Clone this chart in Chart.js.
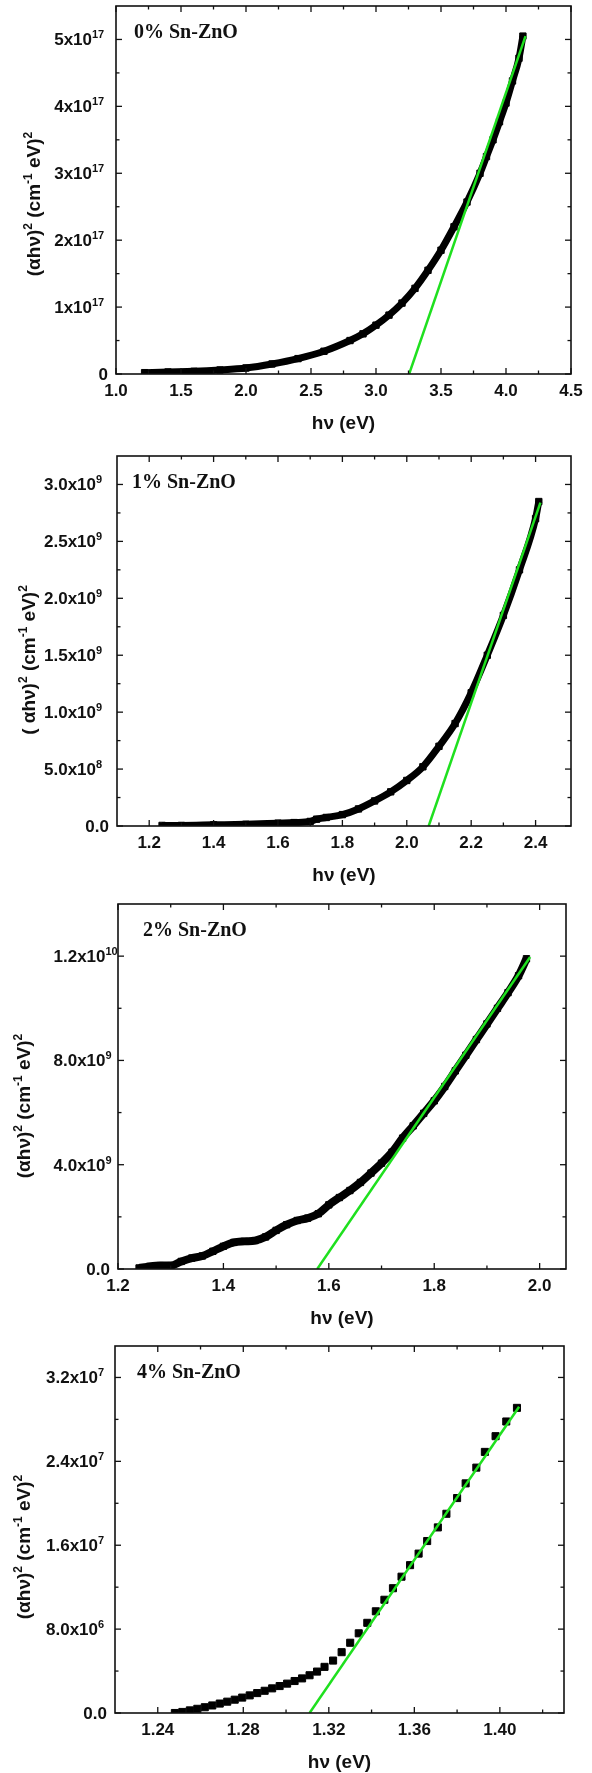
<!DOCTYPE html>
<html>
<head>
<meta charset="utf-8">
<title>Tauc plots Sn-ZnO</title>
<script src="https://cdn.jsdelivr.net/npm/chart.js@4.4.1/dist/chart.umd.min.js"></script>
<style>
  html, body { margin: 0; padding: 0; background: #fff; }
  #page { position: relative; width: 592px; height: 1773px; overflow: hidden; }
  #page canvas { position: absolute; left: 0; }
</style>
</head>
<body>
<div id="page">
  <canvas id="c1"></canvas>
  <canvas id="c2"></canvas>
  <canvas id="c3"></canvas>
  <canvas id="c4"></canvas>
</div>
<script>
'use strict';

/* ---- Data: 0% Sn-ZnO ---- */
const p1Energy = [1.22, 1.4, 1.6, 1.8, 2.0, 2.2, 2.4, 2.6, 2.8, 2.9, 3.0, 3.1, 3.2, 3.3, 3.4, 3.5, 3.6, 3.7, 3.8, 3.85, 3.9, 3.95, 4.0, 4.05, 4.1, 4.13];
const p1Absorb = [0.02e17, 0.03e17, 0.04e17, 0.06e17, 0.09e17, 0.15e17, 0.23e17, 0.34e17, 0.5e17, 0.6e17, 0.73e17, 0.88e17, 1.06e17, 1.28e17, 1.55e17, 1.85e17, 2.2e17, 2.57e17, 3.0e17, 3.25e17, 3.5e17, 3.77e17, 4.05e17, 4.38e17, 4.72e17, 5.05e17];
const p1FitX = [3.255, 4.15];
const p1FitY = [0, 5.05e17];
const p1XTicks = [1.0, 1.5, 2.0, 2.5, 3.0, 3.5, 4.0, 4.5];
const p1XLabels = ['1.0', '1.5', '2.0', '2.5', '3.0', '3.5', '4.0', '4.5'];
const p1XMinor = [1.25, 1.75, 2.25, 2.75, 3.25, 3.75, 4.25];
const p1YTicks = [0, 1e17, 2e17, 3e17, 4e17, 5e17];
const p1YLabels = ['0', '1x10^{17}', '2x10^{17}', '3x10^{17}', '4x10^{17}', '5x10^{17}'];
const p1YMinor = [0.5e17, 1.5e17, 2.5e17, 3.5e17, 4.5e17];

/* ---- Data: 1% Sn-ZnO ---- */
const p2Energy = [1.24, 1.3, 1.4, 1.5, 1.6, 1.65, 1.7, 1.72, 1.75, 1.8, 1.85, 1.9, 1.95, 2.0, 2.05, 2.1, 2.15, 2.2, 2.25, 2.3, 2.35, 2.4, 2.41];
const p2Absorb = [0.005e9, 0.005e9, 0.01e9, 0.015e9, 0.025e9, 0.03e9, 0.04e9, 0.06e9, 0.075e9, 0.1e9, 0.15e9, 0.22e9, 0.3e9, 0.4e9, 0.52e9, 0.7e9, 0.9e9, 1.17e9, 1.5e9, 1.85e9, 2.25e9, 2.7e9, 2.85e9];
const p2FitX = [2.068, 2.415];
const p2FitY = [0, 2.84e9];
const p2XTicks = [1.2, 1.4, 1.6, 1.8, 2.0, 2.2, 2.4];
const p2XLabels = ['1.2', '1.4', '1.6', '1.8', '2.0', '2.2', '2.4'];
const p2XMinor = [1.3, 1.5, 1.7, 1.9, 2.1, 2.3];
const p2YTicks = [0, 0.5e9, 1.0e9, 1.5e9, 2.0e9, 2.5e9, 3.0e9];
const p2YLabels = ['0.0', '5.0x10^{8}', '1.0x10^{9}', '1.5x10^{9}', '2.0x10^{9}', '2.5x10^{9}', '3.0x10^{9}'];
const p2YMinor = [0.25e9, 0.75e9, 1.25e9, 1.75e9, 2.25e9, 2.75e9];

/* ---- Data: 2% Sn-ZnO ---- */
const p3Energy = [1.24, 1.26, 1.28, 1.30, 1.32, 1.34, 1.36, 1.38, 1.40, 1.42, 1.44, 1.46, 1.48, 1.50, 1.52, 1.54, 1.56, 1.58, 1.60, 1.62, 1.64, 1.66, 1.68, 1.70, 1.72, 1.74, 1.76, 1.78, 1.80, 1.82, 1.84, 1.86, 1.88, 1.90, 1.92, 1.94, 1.96, 1.975];
const p3Absorb = [0.04e9, 0.1e9, 0.13e9, 0.13e9, 0.29e9, 0.42e9, 0.5e9, 0.68e9, 0.87e9, 1.02e9, 1.06e9, 1.09e9, 1.23e9, 1.48e9, 1.7e9, 1.86e9, 1.95e9, 2.12e9, 2.46e9, 2.74e9, 3.01e9, 3.32e9, 3.68e9, 4.06e9, 4.48e9, 5.02e9, 5.49e9, 5.97e9, 6.45e9, 7.0e9, 7.6e9, 8.2e9, 8.8e9, 9.4e9, 10.0e9, 10.6e9, 11.25e9, 11.9e9];
const p3FitX = [1.578, 1.982];
const p3FitY = [0, 11.97e9];
const p3XTicks = [1.2, 1.4, 1.6, 1.8, 2.0];
const p3XLabels = ['1.2', '1.4', '1.6', '1.8', '2.0'];
const p3XMinor = [1.3, 1.5, 1.7, 1.9];
const p3YTicks = [0, 4e9, 8e9, 12e9];
const p3YLabels = ['0.0', '4.0x10^{9}', '8.0x10^{9}', '1.2x10^{10}'];
const p3YMinor = [2e9, 6e9, 10e9];

/* ---- Data: 4% Sn-ZnO ---- */
const p4Energy = [1.248, 1.2515, 1.255, 1.2585, 1.262, 1.2655, 1.269, 1.2725, 1.276, 1.2795, 1.283, 1.2865, 1.290, 1.2935, 1.297, 1.3005, 1.304, 1.3075, 1.311, 1.3145, 1.318, 1.322, 1.326, 1.330, 1.334, 1.338, 1.342, 1.346, 1.350, 1.354, 1.358, 1.362, 1.366, 1.371, 1.375, 1.380, 1.384, 1.389, 1.393, 1.398, 1.403, 1.408];
const p4Absorb = [0.0e6, 0.1e6, 0.25e6, 0.4e6, 0.55e6, 0.72e6, 0.9e6, 1.08e6, 1.27e6, 1.47e6, 1.68e6, 1.9e6, 2.12e6, 2.35e6, 2.57e6, 2.8e6, 3.05e6, 3.3e6, 3.6e6, 3.95e6, 4.4e6, 5.0e6, 5.8e6, 6.7e6, 7.6e6, 8.6e6, 9.7e6, 10.8e6, 11.9e6, 13.0e6, 14.1e6, 15.2e6, 16.4e6, 17.7e6, 19.0e6, 20.5e6, 21.9e6, 23.4e6, 24.9e6, 26.4e6, 27.8e6, 29.1e6];
const p4FitX = [1.311, 1.409];
const p4FitY = [0, 29.2e6];
const p4XTicks = [1.24, 1.28, 1.32, 1.36, 1.40];
const p4XLabels = ['1.24', '1.28', '1.32', '1.36', '1.40'];
const p4XMinor = [1.26, 1.30, 1.34, 1.38, 1.42];
const p4YTicks = [0, 8e6, 16e6, 24e6, 32e6];
const p4YLabels = ['0.0', '8.0x10^{6}', '1.6x10^{7}', '2.4x10^{7}', '3.2x10^{7}'];
const p4YMinor = [4e6, 12e6, 20e6, 28e6];

const sampleNames = ['0% Sn-ZnO', '1% Sn-ZnO', '2% Sn-ZnO', '4% Sn-ZnO'];
const xTitle = 'h\u03bd (eV)';
const yTitles = [
  '(\u03b1h\u03bd)^{2} (cm^{-1} eV)^{2}',
  '( \u03b1h\u03bd)^{2} (cm^{-1} eV)^{2}',
  '(\u03b1h\u03bd)^{2} (cm^{-1} eV)^{2}',
  '(\u03b1h\u03bd)^{2} (cm^{-1} eV)^{2}'
];

/* ---- Styles ---- */
const SANS = '"Liberation Sans", Arial, sans-serif';
const SERIF = '"Liberation Serif", "Times New Roman", serif';
const INK = '#111';
const GREEN = '#1fe01f';

/* ---- Panel geometry (page pixels) ---- */
const panels = [
  { id: 'c1', top: 0, height: 446, box: { left: 116, right: 571, top: 6, bottom: 374 },
    xMin: 1.0, xMax: 4.5, yMax: 5.5e17, band: 7, radius: 4.5, mainGap: 24,
    nameX: 134, yTitleX: 33, yTitleY: 204,
    energy: p1Energy, absorb: p1Absorb, fitX: p1FitX, fitY: p1FitY,
    xTicks: p1XTicks, xLabels: p1XLabels, xMinor: p1XMinor,
    yTicks: p1YTicks, yLabels: p1YLabels, yMinor: p1YMinor },
  { id: 'c2', top: 446, height: 447, box: { left: 117, right: 571, top: 456, bottom: 826 },
    xMin: 1.1, xMax: 2.51, yMax: 3.25e9, band: 7, radius: 4.5, mainGap: 21,
    nameX: 132, yTitleX: 28, yTitleY: 660,
    energy: p2Energy, absorb: p2Absorb, fitX: p2FitX, fitY: p2FitY,
    xTicks: p2XTicks, xLabels: p2XLabels, xMinor: p2XMinor,
    yTicks: p2YTicks, yLabels: p2YLabels, yMinor: p2YMinor },
  { id: 'c3', top: 893, height: 443, box: { left: 118, right: 566, top: 904, bottom: 1269 },
    xMin: 1.2, xMax: 2.05, yMax: 1.4e10, band: 8, radius: 4.5, mainGap: 12.5,
    nameX: 143, yTitleX: 23, yTitleY: 1106,
    energy: p3Energy, absorb: p3Absorb, fitX: p3FitX, fitY: p3FitY,
    xTicks: p3XTicks, xLabels: p3XLabels, xMinor: p3XMinor,
    yTicks: p3YTicks, yLabels: p3YLabels, yMinor: p3YMinor },
  { id: 'c4', top: 1336, height: 437, box: { left: 115, right: 564, top: 1346, bottom: 1713 },
    xMin: 1.22, xMax: 1.43, yMax: 3.5e7, band: 0, radius: 5, mainGap: 17,
    nameX: 137, yTitleX: 23, yTitleY: 1547,
    energy: p4Energy, absorb: p4Absorb, fitX: p4FitX, fitY: p4FitY,
    xTicks: p4XTicks, xLabels: p4XLabels, xMinor: p4XMinor,
    yTicks: p4YTicks, yLabels: p4YLabels, yMinor: p4YMinor }
];

/* ---- Rich text with superscripts: "10^{17}" ---- */
function parseRich(str) {
  const parts = [];
  const re = /\^\{([^}]*)\}/g;
  let last = 0, m;
  while ((m = re.exec(str))) {
    if (m.index > last) parts.push({ t: str.slice(last, m.index), sup: false });
    parts.push({ t: m[1], sup: true });
    last = re.lastIndex;
  }
  if (last < str.length) parts.push({ t: str.slice(last), sup: false });
  return parts;
}

function measureRich(ctx, parts, size) {
  const supSize = Math.round(size * 0.62);
  return parts.map(p => {
    ctx.font = `bold ${p.sup ? supSize : size}px ${SANS}`;
    return ctx.measureText(p.t).width;
  });
}

// x is the left edge, y the baseline
function drawRich(ctx, parts, widths, x, y, size) {
  const supSize = Math.round(size * 0.62);
  ctx.textAlign = 'left';
  ctx.textBaseline = 'alphabetic';
  let cx = x;
  parts.forEach((p, i) => {
    ctx.font = `bold ${p.sup ? supSize : size}px ${SANS}`;
    ctx.fillText(p.t, cx, p.sup ? y - size * 0.42 : y);
    cx += widths[i];
  });
}

/* ---- Frame, inward ticks, labels ---- */
function makeFrame(p) {
  return {
    id: 'frame-' + p.id,
    afterDraw(chart) {
      const { ctx, chartArea: a } = chart;
      const xs = chart.scales.x, ys = chart.scales.y;
      ctx.save();
      ctx.strokeStyle = INK;
      ctx.fillStyle = INK;
      ctx.lineWidth = 1.6;
      ctx.strokeRect(a.left, a.top, a.right - a.left, a.bottom - a.top);

      const seg = (x1, y1, x2, y2) => {
        ctx.beginPath(); ctx.moveTo(x1, y1); ctx.lineTo(x2, y2); ctx.stroke();
      };
      const xTick = (v, len) => {
        const px = xs.getPixelForValue(v);
        seg(px, a.bottom, px, a.bottom - len);
        seg(px, a.top, px, a.top + len);
      };
      const yTick = (v, len) => {
        const py = ys.getPixelForValue(v);
        seg(a.left, py, a.left + len, py);
        seg(a.right, py, a.right - len, py);
      };
      ctx.lineWidth = 1.3;
      p.xTicks.forEach(v => xTick(v, 6));
      p.xMinor.forEach(v => xTick(v, 3.5));
      p.yTicks.forEach(v => yTick(v, 6));
      p.yMinor.forEach(v => yTick(v, 3.5));

      // x tick labels
      ctx.font = `bold 17px ${SANS}`;
      ctx.textAlign = 'center';
      ctx.textBaseline = 'middle';
      p.xTicks.forEach((v, i) => {
        ctx.fillText(p.xLabels[i], xs.getPixelForValue(v), a.bottom + 17);
      });

      // y tick labels, mantissa right-aligned, exponent hanging
      p.yTicks.forEach((v, i) => {
        const parts = parseRich(p.yLabels[i]);
        const widths = measureRich(ctx, parts, 17);
        const mainW = parts.reduce((s, q, k) => s + (q.sup ? 0 : widths[k]), 0);
        const gap = parts.length > 1 ? p.mainGap : 8;
        const py = ys.getPixelForValue(v);
        drawRich(ctx, parts, widths, a.left - gap - mainW, py + 6, 17);
      });

      // x title
      ctx.font = `bold 19px ${SANS}`;
      ctx.textAlign = 'center';
      ctx.textBaseline = 'middle';
      ctx.fillText(xTitle, (a.left + a.right) / 2, a.bottom + 50);

      // y title (rotated)
      const idx = panels.indexOf(p);
      const tParts = parseRich(yTitles[idx]);
      const tW = measureRich(ctx, tParts, 19);
      const total = tW.reduce((s, w) => s + w, 0);
      ctx.save();
      ctx.translate(p.yTitleX, p.yTitleY - p.top);
      ctx.rotate(-Math.PI / 2);
      drawRich(ctx, tParts, tW, -total / 2, 7, 19);
      ctx.restore();

      // sample name
      ctx.font = `bold 20px ${SERIF}`;
      ctx.textAlign = 'left';
      ctx.textBaseline = 'middle';
      ctx.fillText(sampleNames[idx], p.nameX, a.top + 27);
      ctx.restore();
    }
  };
}

/* ---- Build charts ---- */
function buildPanel(p) {
  const canvas = document.getElementById(p.id);
  canvas.width = 592;
  canvas.height = p.height;
  canvas.style.top = p.top + 'px';

  const points = p.energy.map((e, i) => ({ x: e, y: p.absorb[i] }));
  const fit = p.fitX.map((e, i) => ({ x: e, y: p.fitY[i] }));

  new Chart(canvas, {
    type: 'scatter',
    data: {
      datasets: [
        { data: fit, showLine: true, borderColor: GREEN, borderWidth: 2.5,
          pointRadius: 0, order: 0 },
        { data: points, showLine: p.band > 0, borderColor: '#000', borderWidth: p.band,
          cubicInterpolationMode: 'monotone', pointStyle: 'rect', pointRadius: p.radius,
          pointBackgroundColor: '#000', pointBorderColor: '#000', pointBorderWidth: 1, order: 1 }
      ]
    },
    options: {
      responsive: false,
      animation: false,
      devicePixelRatio: 1,
      events: [],
      layout: {
        padding: {
          left: p.box.left,
          right: 592 - p.box.right,
          top: p.box.top - p.top,
          bottom: p.top + p.height - p.box.bottom
        }
      },
      plugins: { legend: { display: false }, tooltip: { enabled: false } },
      scales: {
        x: { type: 'linear', min: p.xMin, max: p.xMax, display: false },
        y: { type: 'linear', min: 0, max: p.yMax, display: false }
      }
    },
    plugins: [makeFrame(p)]
  });
}

panels.forEach(buildPanel);
</script>
</body>
</html>
